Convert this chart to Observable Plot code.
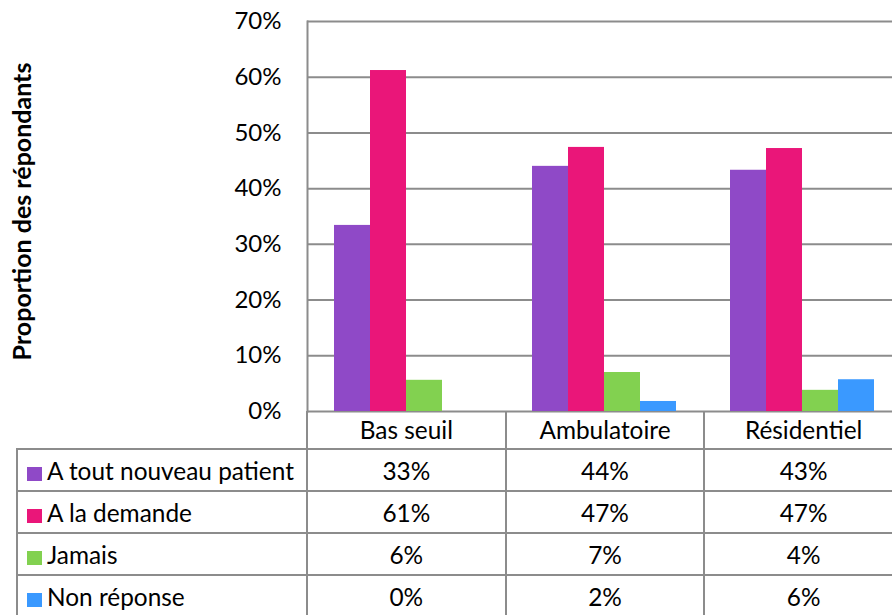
<!DOCTYPE html>
<html>
<head>
<meta charset="utf-8">
<script src="https://cdn.jsdelivr.net/npm/d3@7"></script>
<script src="https://cdn.jsdelivr.net/npm/@observablehq/plot@0.6"></script>
<style>
  html, body { margin: 0; padding: 0; background: #fff; overflow: hidden; }
  #chart svg { display: block; max-width: none; }
  #chart svg [aria-label="y-axis label"] { translate: 0px -5px; }
  #chart svg [aria-label="y-axis label"] text { font-weight: bold; font-size: 25px; }
  table.datatable {
    position: relative;
    border-collapse: collapse;
    table-layout: fixed;
    margin-left: 16px;
    margin-top: -19px;
    width: 886px;
    font-family: Lato, sans-serif;
    font-size: 24.4px;
    color: #000;
  }
  table.datatable td {
    border: 2px solid #8c8c8c;
    height: 40px;
    padding: 0;
    text-align: center;
    white-space: nowrap;
    overflow: hidden;
  }
  table.datatable tr.head td { border-top: none; height: 37px; }
  table.datatable tr.head td:first-child { border-left: none; }
  table.datatable td.series { text-align: left; padding-left: 9px; }
  .swatch { display: inline-block; width: 15px; height: 14px; margin-right: 5px; vertical-align: -1px; }
</style>
</head>
<body>
<div id="chart"></div>
<script>
// Treatment settings (one group of bars per setting)
const categories = ["Bas seuil", "Ambulatoire", "Résidentiel"];
// Answer options (one bar colour per option)
const series = ["A tout nouveau patient", "A la demande", "Jamais", "Non réponse"];
// Share of respondents, in percent, per setting
const aToutNouveauPatient = [33.4, 44.0, 43.3];
const aLaDemande = [61.2, 47.4, 47.2];
const jamais = [5.6, 7.0, 3.8];
const nonReponse = [0, 1.8, 5.7];
// Y axis ticks
const yTicks = [0, 10, 20, 30, 40, 50, 60, 70];

const valuesBySeries = [aToutNouveauPatient, aLaDemande, jamais, nonReponse];
const rows = series.flatMap((s, i) =>
  categories.map((c, j) => ({category: c, series: s, value: valuesBySeries[i][j]}))
);

const gridColor = "#8c8c8c";
const fontFamily = "Lato, sans-serif";

const plot = Plot.plot({
  width: 902,
  height: 430,
  marginLeft: 306,
  marginRight: 0,
  marginTop: 21,
  marginBottom: 19,
  style: {fontFamily, fontSize: "24px", color: "#000", background: "transparent", maxWidth: "none"},
  fx: {domain: categories, padding: 0, axis: null},
  x: {domain: series, paddingInner: 0, paddingOuter: 0.735, axis: null},
  y: {domain: [0, 70], ticks: yTicks, axis: null},
  color: {
    domain: series,
    range: ["#8f49c7", "#ea1679", "#82d150", "#3a99ff"]
  },
  marks: [
    Plot.ruleY(yTicks, {stroke: gridColor, strokeWidth: 2}),
    Plot.barY(rows, {fx: "category", x: "series", y: "value", fill: "series", inset: 0}),
    Plot.frame({anchor: "left", facetAnchor: "left", stroke: gridColor, strokeWidth: 2}),
    Plot.axisY({
      ticks: yTicks,
      tickFormat: d => d + "%",
      tickSize: 0,
      tickPadding: 26,
      label: "Proportion des répondants",
      labelAnchor: "center",
      labelArrow: "none",
      labelOffset: 294,
      fontSize: 24
    })
  ]
});

document.getElementById("chart").appendChild(plot);

// Data table under the chart: category header, then one row per answer option
const color = plot.scale("color");
const table = d3.select("body").append("table").attr("class", "datatable");
const colgroup = table.append("colgroup");
colgroup.append("col").style("width", "290px");
categories.forEach(() => colgroup.append("col").style("width", ((902 - 306) / categories.length) + "px"));

const head = table.append("tr").attr("class", "head");
head.append("td");
categories.forEach(c => head.append("td").text(c));

series.forEach((s, i) => {
  const tr = table.append("tr");
  const first = tr.append("td").attr("class", "series");
  first.append("span").attr("class", "swatch").style("background", color.apply(s));
  first.append("span").text(s);
  valuesBySeries[i].forEach(v => tr.append("td").text(Math.round(v) + "%"));
});
</script>
</body>
</html>
